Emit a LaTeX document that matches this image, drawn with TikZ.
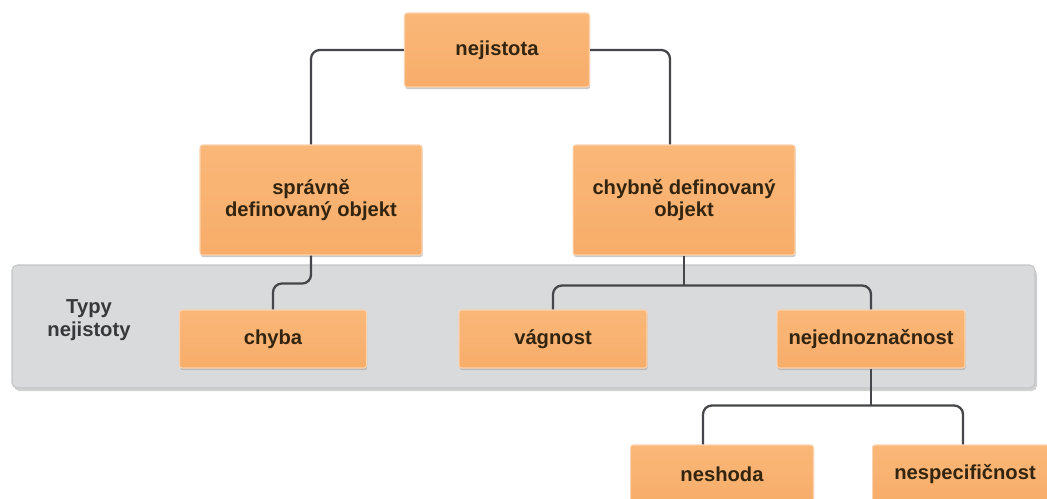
\documentclass[tikz,border=0pt]{standalone}
\usepackage{fontspec}
\setmainfont{Liberation Sans}
\usetikzlibrary{calc,shadows}
\definecolor{naranja}{HTML}{F8AD6A}
\definecolor{naranjaclaro}{HTML}{F9B778}
\definecolor{textocaja}{HTML}{33240F}
\definecolor{gris}{HTML}{D9DADC}
\definecolor{grisborde}{HTML}{C4C5C7}
\definecolor{linea}{HTML}{45464A}
\tikzset{
  caja/.style={draw=naranja!55!white, line width=0.6pt, top color=naranjaclaro, bottom color=naranja,
    rounded corners=1.5pt, drop shadow={shadow xshift=0.4pt, shadow yshift=-1.2pt, fill=gray!70, opacity=0.6},
    font=\bfseries\fontsize{11.5}{13}\selectfont, text=textocaja, align=center, inner sep=0pt},
  conector/.style={draw=linea, line width=1.3pt, rounded corners=5pt},
}
\begin{document}
\begin{tikzpicture}[x=0.02cm,y=-0.02cm]
    \useasboundingbox (0,0) rectangle (1047,498);
    \clip (0,0) rectangle (1047,498);
    \fill[white] (0,0) rectangle (1047,498);
    % banda de los tipos
    \fill[gray!60, opacity=0.6, rounded corners=3pt] (14,269) rectangle (1037,391);
    \draw[fill=gris, draw=grisborde, line width=0.6pt, rounded corners=3pt] (12,265) rectangle (1035,388);
    \node[font=\bfseries\fontsize{11.5}{13}\selectfont, text=linea!80!black, align=center] (tipos) at (89,320) {Typy\\nejistoty};
    % cajas
    \node[caja, minimum width=3.7cm, minimum height=1.48cm] (nej) at (497,50) {nejistota};
    \node[caja, minimum width=4.44cm, minimum height=2.2cm, font=\bfseries\fontsize{11.5}{12.5}\selectfont] (spr) at (311,200) {správně\\definovaný objekt};
    \node[caja, minimum width=4.44cm, minimum height=2.2cm] (chy) at (684,200) {chybně definovaný\\objekt};
    \node[caja, minimum width=3.74cm, minimum height=1.16cm] (chyba) at (273,339) {chyba};
    \node[caja, minimum width=3.76cm, minimum height=1.16cm] (vag) at (553,339) {vágnost};
    \node[caja, minimum width=3.76cm, minimum height=1.16cm] (ned) at (871,339) {nejednoznačnost};
    \node[caja, minimum width=3.66cm, minimum height=1.16cm] (nesh) at (722,474) {neshoda};
    \node[caja, minimum width=3.7cm, minimum height=1.16cm] (nesp) at (965,474) {nespecifičnost};
    % conectores
    \draw[conector] (nej.west) -| (spr.north);
    \draw[conector] (nej.east) -| ($(chy.north)+(-14,0)$);
    \draw[conector] (spr.south) -- ++(0,28) -| (chyba.north);
    \coordinate (j1) at ($(chy.south)+(0,30)$);
    \draw[conector] (chy.south) -- (j1);
    \draw[conector] (vag.north) |- (j1) -| (ned.north);
    \coordinate (j2) at ($(ned.south)+(0,37)$);
    \draw[conector] (ned.south) -- (j2);
    \draw[conector] ($(nesh.north)+(-19,0)$) |- (j2) -| ($(nesp.north)+(-2,0)$);
\end{tikzpicture}
\end{document}
